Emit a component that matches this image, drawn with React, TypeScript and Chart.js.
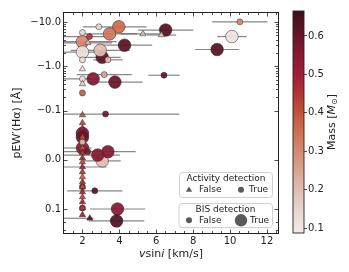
import React, { useEffect, useRef } from "react";
import { Chart, registerables, Scale } from "chart.js";

Chart.register(...registerables);

const FONT = '"DejaVu Sans", sans-serif';

// ---------------- data ----------------
const vsini = [
  3.97, 3.47, 2.0, 4.28, 3.07, 2.0, 2.96, 6.51, 10.1, 9.3, 2.58, 3.76, 2.0, 2.0, 2.0, 3.07, 3.38, 2.83, 3.9, 3.85,
  2.89, 2.0, 2.38, 3.38, 2.0, 10.53, 3.18, 6.42, 2.0, 2.0, 3.25, 2.0, 2.29, 2.0, 2.67, 2.0,
  2.3, 5.28, 6.28, 2.0, 2.0, 2.0, 2.0, 2.0, 2.0, 2.0, 2.0, 2.0, 2.0, 2.0, 2.0, 2.0, 2.0, 2.0, 2.0, 2.0, 2.0, 2.0, 2.0, 2.4,
];
const vsiniErrLow = [
  1.95, 1.5, 1.1, 1.5, 1.0, 1.0, 1.6, 1.5, 0.8, 1.2, 1.6, 1.5, 0, 0, 1.0, 1.0, 2.4, 1.9, 1.5, 1.5,
  0, 0, 1.5, 0.8, 0, 1.5, 1.5, 0.85, 0, 0, 2.3, 0, 0, 0, 1.5, 0,
  1.3, 1.2, 0.8, 0, 0, 0, 0, 0, 0, 0, 0, 0, 0, 1.1, 0, 0, 0, 0, 0, 0, 0, 0, 0, 1.5,
];
const vsiniErrHigh = [
  1.5, 1.5, 1.85, 1.5, 1.0, 1.0, 1.6, 1.5, 0.8, 1.2, 0.3, 1.5, 0, 0, 0.5, 1.0, 1.5, 1.2, 1.5, 1.5,
  0, 0, 1.1, 0.8, 0, 1.5, 1.5, 0.85, 0, 0, 4.0, 0, 0, 0, 1.5, 0,
  1.3, 1.2, 0.8, 0, 0, 0, 0, 0, 0, 0, 0, 0, 0, 1.3, 0, 0, 0, 0, 0, 0, 0, 0, 0, 0.2,
];
const pewHa = [
  -7.8, -5.4, -3.6, -3.0, -1.6, -2.1, -2.3, -6.6, -4.7, -2.4, -0.52, -0.44, -0.054, -0.046, -0.024, 0.002, -0.0165, -0.0097, 0.1, 0.186,
  -7.8, -5.8, -4.7, -1.4, -1.4, -10.1, -0.65, -0.63, -0.52, -0.25, -0.093, -0.036, -0.0165, 0.055, 0.063, 0.098,
  -3.4, -5.4, -5.1, -0.87, -0.4, -0.091, -0.075, -0.064, -0.046, -0.024, -0.0138, -0.0037, 0.0045, 0.0146, 0.0248, 0.0349, 0.0451, 0.0553, 0.0654, 0.0756, 0.0857, 0.098, 0.136, 0.162,
];
const mass = [
  0.36, 0.34, 0.3, 0.62, 0.62, 0.12, 0.2, 0.63, 0.11, 0.63, 0.55, 0.6, 0.56, 0.6, 0.55, 0.2, 0.55, 0.55, 0.55, 0.64,
  0.15, 0.14, 0.45, 0.2, 0.13, 0.3, 0.25, 0.61, 0.12, 0.38, 0.58, 0.2, 0.56, 0.55, 0.62, 0.55,
  0.2, 0.2, 0.18, 0.12, 0.16, 0.4, 0.42, 0.5, 0.4, 0.4, 0.45, 0.48, 0.42, 0.5, 0.45, 0.38, 0.48, 0.4, 0.5, 0.42, 0.5, 0.42, 0.5, 0.62,
];
const activityDetected = [
  1, 1, 1, 1, 1, 1, 1, 1, 1, 1, 1, 1, 1, 1, 1, 1, 1, 1, 1, 1,
  1, 1, 1, 1, 1, 1, 1, 1, 1, 1, 1, 1, 1, 1, 1, 1,
  0, 0, 0, 0, 0, 0, 0, 0, 0, 0, 0, 0, 0, 0, 0, 0, 0, 0, 0, 0, 0, 0, 0, 0,
];
const bisDetected = [
  1, 1, 1, 1, 1, 1, 1, 1, 1, 1, 1, 1, 1, 1, 1, 1, 1, 1, 1, 1,
  0, 0, 0, 0, 0, 0, 0, 0, 0, 0, 0, 0, 0, 0, 0, 0,
  0, 0, 0, 0, 0, 0, 0, 0, 0, 0, 0, 0, 0, 0, 0, 0, 0, 0, 0, 0, 0, 0, 0, 0,
];

const X_TICKS = [2, 4, 6, 8, 10, 12];
const Y_TICKS = [-10, -1, -0.1, 0, 0.1];
const Y_MINOR = [-9, -8, -7, -6, -5, -4, -3, -2, -0.9, -0.8, -0.7, -0.6, -0.5, -0.4, -0.3, -0.2, 0.2, 0.3];
const MASS_TICKS = [0.1, 0.2, 0.3, 0.4, 0.5, 0.6];
const MASS_MIN = 0.087;
const MASS_MAX = 0.665;

// ---------------- colormap ----------------
const CMAP: number[][] = [
  [0.0, 241, 234, 233],
  [0.109, 232, 212, 206],
  [0.196, 225, 188, 178],
  [0.282, 217, 163, 145],
  [0.369, 211, 138, 112],
  [0.455, 207, 112, 82],
  [0.542, 196, 82, 58],
  [0.628, 180, 52, 50],
  [0.715, 160, 30, 55],
  [0.801, 135, 25, 50],
  [0.888, 105, 20, 40],
  [1.0, 62, 15, 28],
];
function cmapT(t: number, a = 1) {
  t = Math.max(0, Math.min(1, t));
  for (let i = 1; i < CMAP.length; i++) {
    if (t <= CMAP[i][0]) {
      const p = CMAP[i - 1], q = CMAP[i];
      const f = (t - p[0]) / (q[0] - p[0]);
      const r = Math.round(p[1] + (q[1] - p[1]) * f);
      const g = Math.round(p[2] + (q[2] - p[2]) * f);
      const b = Math.round(p[3] + (q[3] - p[3]) * f);
      return `rgba(${r},${g},${b},${a})`;
    }
  }
  return "black";
}
const massColor = (m: number, a = 1) => cmapT((m - MASS_MIN) / (MASS_MAX - MASS_MIN), a);

// ---------------- symlog scale ----------------
const LINTHRESH = 0.1;
const LINSCALE_ADJ = 1 / (1 - 1 / 10);
function symlog(v: number) {
  const a = Math.abs(v);
  if (a <= LINTHRESH) return v * LINSCALE_ADJ;
  return Math.sign(v) * LINTHRESH * (LINSCALE_ADJ + Math.log10(a / LINTHRESH));
}
function symlogInv(t: number) {
  const a = Math.abs(t);
  if (a <= LINTHRESH * LINSCALE_ADJ) return t / LINSCALE_ADJ;
  return Math.sign(t) * LINTHRESH * Math.pow(10, a / LINTHRESH - LINSCALE_ADJ);
}

class SymlogScale extends Scale {
  static id = "symlog";
  static defaults = {};
  determineDataLimits() {
    const self: any = this;
    const { min, max } = self.getMinMax(true);
    const o: any = self.options;
    self.min = typeof o.min === "number" ? o.min : min;
    self.max = typeof o.max === "number" ? o.max : max;
  }
  buildTicks() {
    return Y_TICKS.map((v) => ({ value: v }));
  }
  configure() {
    super.configure();
    const self: any = this;
    self._tMin = symlog(self.min);
    self._tMax = symlog(self.max);
  }
  getPixelForValue(value: number) {
    const self: any = this;
    return self.getPixelForDecimal((symlog(value) - self._tMin) / (self._tMax - self._tMin));
  }
  getValueForPixel(pixel: number) {
    const self: any = this;
    return symlogInv(self._tMin + self.getDecimalForPixel(pixel) * (self._tMax - self._tMin));
  }
  getLabelForValue(value: number) {
    return String(value);
  }
}
Chart.register(SymlogScale as any);

const fmtY = (v: number) => {
  const s = Math.abs(v).toFixed(1);
  return v < 0 ? "\u2212" + s : s;
};

// ---------------- plugins ----------------
const errorBarPlugin = {
  id: "errbars",
  beforeDatasetsDraw(chart: any) {
    const { ctx, chartArea: ca, scales } = chart;
    ctx.save();
    ctx.beginPath();
    ctx.rect(ca.left, ca.top, ca.right - ca.left, ca.bottom - ca.top);
    ctx.clip();
    ctx.strokeStyle = "rgba(95,95,95,0.75)";
    ctx.lineWidth = 1.2;
    for (let i = 0; i < vsini.length; i++) {
      if (vsiniErrLow[i] + vsiniErrHigh[i] <= 0) continue;
      const x1 = scales.x.getPixelForValue(vsini[i] - vsiniErrLow[i]);
      const x2 = scales.x.getPixelForValue(vsini[i] + vsiniErrHigh[i]);
      const y = scales.y.getPixelForValue(pewHa[i]);
      ctx.beginPath();
      ctx.moveTo(x1, y);
      ctx.lineTo(x2, y);
      ctx.stroke();
    }
    ctx.restore();
  },
};

function drawParts(ctx: CanvasRenderingContext2D, parts: [string, string, number, number][], cx: number, cy: number) {
  let total = 0;
  for (const [t, st, sz] of parts) {
    ctx.font = `${st} ${sz}px ${FONT}`;
    total += ctx.measureText(t).width;
  }
  let x = cx - total / 2;
  ctx.textAlign = "left";
  ctx.textBaseline = "middle";
  for (const [t, st, sz, dy] of parts) {
    ctx.font = `${st} ${sz}px ${FONT}`;
    ctx.fillText(t, x, cy + dy);
    x += ctx.measureText(t).width;
  }
}

const framePlugin = {
  id: "frame",
  afterDraw(chart: any) {
    const { ctx, chartArea: ca, scales } = chart;
    const xs = scales.x, ys = scales.y;
    ctx.save();
    ctx.strokeStyle = "#222";
    ctx.lineWidth = 1;
    ctx.strokeRect(ca.left - 0.5, ca.top - 0.5, ca.right - ca.left + 1, ca.bottom - ca.top + 1);
    ctx.lineWidth = 0.8;
    const tick = (x1: number, y1: number, x2: number, y2: number) => {
      ctx.beginPath();
      ctx.moveTo(x1, y1);
      ctx.lineTo(x2, y2);
      ctx.stroke();
    };
    for (let v = 1.5; v < 12.6; v += 0.5) {
      const major = X_TICKS.includes(v);
      const L = major ? 3.5 : 2;
      const px = Math.round(xs.getPixelForValue(v)) + 0.5;
      tick(px, ca.bottom, px, ca.bottom - L);
      tick(px, ca.top, px, ca.top + L);
    }
    const yAll: [number, number][] = [...Y_TICKS.map((v) => [v, 3.5] as [number, number]), ...Y_MINOR.map((v) => [v, 2] as [number, number])];
    for (const [v, L] of yAll) {
      const py = Math.round(ys.getPixelForValue(v)) + 0.5;
      tick(ca.left, py, ca.left + L, py);
      tick(ca.right, py, ca.right - L, py);
    }

    ctx.fillStyle = "#222";
    drawParts(ctx, [["v", "italic", 11, 0], ["sin", "normal", 11, 0], ["i", "italic", 11, 0], [" [km/s]", "normal", 11, 0]], (ca.left + ca.right) / 2, 254);
    ctx.save();
    ctx.translate(17, (ca.top + ca.bottom) / 2);
    ctx.rotate(-Math.PI / 2);
    drawParts(ctx, [["pEW\u2032(H\u03b1) [\u00c5]", "normal", 11, 0]], 0, 0);
    ctx.restore();

    const box = (x: number, y: number, w: number, h: number) => {
      ctx.beginPath();
      ctx.roundRect(x, y, w, h, 3);
      ctx.fillStyle = "rgba(255,255,255,0.85)";
      ctx.fill();
      ctx.strokeStyle = "#d0d0d0";
      ctx.lineWidth = 1;
      ctx.stroke();
    };
    const grey = "#5a5a5a";
    const circle = (x: number, y: number, r: number) => {
      ctx.beginPath();
      ctx.arc(x, y, r, 0, Math.PI * 2);
      ctx.fillStyle = grey;
      ctx.fill();
    };
    const tri = (x: number, y: number, r: number) => {
      ctx.beginPath();
      for (let k = 0; k < 3; k++) {
        const a = (k * 2 * Math.PI) / 3;
        const px = x + Math.sin(a) * r, py = y - Math.cos(a) * r;
        if (k === 0) ctx.moveTo(px, py);
        else ctx.lineTo(px, py);
      }
      ctx.closePath();
      ctx.fillStyle = grey;
      ctx.fill();
    };
    const text = (t: string, x: number, y: number, align: CanvasTextAlign) => {
      ctx.font = `9px ${FONT}`;
      ctx.fillStyle = "#222";
      ctx.textAlign = align;
      ctx.textBaseline = "middle";
      ctx.fillText(t, x, y);
    };
    box(179.5, 172.5, 93, 25);
    text("Activity detection", 226, 178.8, "center");
    tri(189, 190, 3.6);
    text("False", 199, 189.8, "left");
    circle(241, 189.8, 3);
    text("True", 249, 189.8, "left");

    box(179, 203.5, 93.5, 24);
    text("BIS detection", 225.5, 209.3, "center");
    circle(189, 220.3, 3);
    text("False", 199, 220.3, "left");
    circle(241, 220.3, 6.2);
    text("True", 250, 220.3, "left");
    ctx.restore();
  },
};

const colorbarPlugin = {
  id: "cbar",
  beforeDatasetsDraw(chart: any) {
    const { ctx, chartArea: ca, scales } = chart;
    const y0 = scales.y.getPixelForValue(MASS_MIN);
    const y1 = scales.y.getPixelForValue(MASS_MAX);
    const g = ctx.createLinearGradient(0, y0, 0, y1);
    for (const s of CMAP) g.addColorStop(s[0], cmapT(s[0]));
    ctx.save();
    ctx.fillStyle = g;
    ctx.fillRect(ca.left, ca.top, ca.right - ca.left, ca.bottom - ca.top);
    ctx.strokeStyle = "#222";
    ctx.lineWidth = 0.9;
    ctx.strokeRect(ca.left, ca.top, ca.right - ca.left, ca.bottom - ca.top);
    ctx.fillStyle = "#222";
    ctx.translate(332, (ca.top + ca.bottom) / 2);
    ctx.rotate(-Math.PI / 2);
    drawParts(ctx, [["Mass [", "normal", 11, 0], ["M", "italic", 11, 0], ["\u2299", "normal", 8, 3], ["]", "normal", 11, 0]], 0, 0);
    ctx.restore();
  },
};

export default function App() {
  const mainRef = useRef<HTMLCanvasElement>(null);
  const cbRef = useRef<HTMLCanvasElement>(null);

  useEffect(() => {
    document.body.style.margin = "0";
    const points = vsini.map((x, i) => ({ x, y: pewHa[i] }));
    const main = new Chart(mainRef.current!, {
      type: "scatter",
      data: {
        datasets: [
          {
            data: points,
            pointStyle: activityDetected.map((a) => (a ? "circle" : "triangle")) as any,
            pointRadius: activityDetected.map((a, i) => (a ? (bisDetected[i] ? 6.3 : 3) : 3.6)),
            backgroundColor: mass.map((m) => massColor(m, 0.93)),
            borderColor: "rgba(40,40,40,0.85)",
            borderWidth: 0.6,
          },
        ],
      },
      options: {
        animation: false,
        responsive: false,
        events: [],
        layout: { padding: { left: 0, right: 71, top: 13, bottom: 0 } },
        plugins: { legend: { display: false }, tooltip: { enabled: false } },
        scales: {
          x: {
            type: "linear",
            min: 1,
            max: 12.6,
            afterBuildTicks: (s: any) => {
              s.ticks = X_TICKS.map((v) => ({ value: v }));
            },
            afterFit: (s: any) => {
              s.height = 39;
            },
            grid: { display: false, drawTicks: false },
            border: { display: false },
            ticks: { font: { family: FONT, size: 10 }, color: "#222", padding: 2, maxRotation: 0, autoSkip: false, callback: (v: any) => String(v) },
          },
          y: {
            type: "symlog" as any,
            min: -16,
            max: 0.348,
            reverse: true,
            afterFit: (s: any) => {
              s.width = 64;
            },
            grid: { display: false, drawTicks: false },
            border: { display: false },
            ticks: { font: { family: FONT, size: 10 }, color: "#222", padding: 3, autoSkip: false, callback: (v: any) => fmtY(Number(v)) },
          } as any,
        },
      },
      plugins: [errorBarPlugin, framePlugin],
    });

    const cb = new Chart(cbRef.current!, {
      type: "scatter",
      data: { datasets: [] },
      options: {
        animation: false,
        responsive: false,
        events: [],
        layout: { padding: { left: 293, right: 0, top: 11, bottom: 39 } },
        plugins: { legend: { display: false }, tooltip: { enabled: false } },
        scales: {
          x: { display: false, min: 0, max: 1 },
          y: {
            type: "linear",
            position: "right",
            min: MASS_MIN,
            max: MASS_MAX,
            afterBuildTicks: (s: any) => {
              s.ticks = MASS_TICKS.map((v) => ({ value: v }));
            },
            afterFit: (s: any) => {
              s.width = 45;
            },
            grid: { display: true, drawOnChartArea: false, drawTicks: true, tickLength: 3, color: "#222", lineWidth: 0.8 },
            border: { display: false },
            ticks: { font: { family: FONT, size: 10 }, color: "#222", padding: 1, autoSkip: false, callback: (v: any) => Number(v).toFixed(1) },
          },
        },
      },
      plugins: [colorbarPlugin],
    });

    return () => {
      main.destroy();
      cb.destroy();
    };
  }, []);

  return (
    <div style={{ position: "relative", width: 349, height: 272 }}>
      <canvas ref={mainRef} width={349} height={272} style={{ position: "absolute", left: 0, top: 0 }} />
      <canvas ref={cbRef} width={349} height={272} style={{ position: "absolute", left: 0, top: 0 }} />
    </div>
  );
}
